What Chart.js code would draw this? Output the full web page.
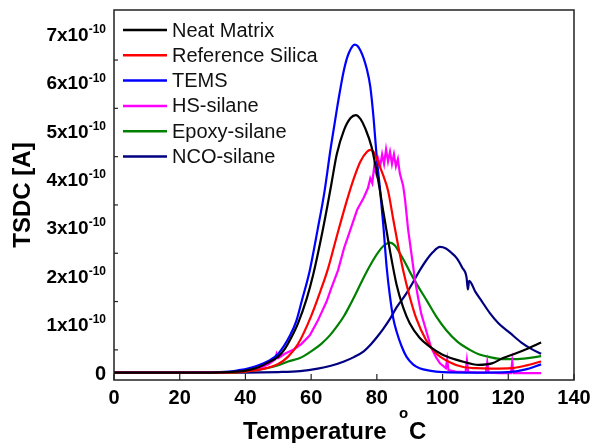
<!DOCTYPE html>
<html>
<head>
<meta charset="utf-8">
<script src="https://cdn.jsdelivr.net/npm/chart.js@4.4.0/dist/chart.umd.min.js"></script>
<style>
body { margin: 0; background: #fff; }
#wrap { width: 592px; height: 443px; }
</style>
</head>
<body>
<div id="wrap"><canvas id="tsdcChart" width="592" height="443"></canvas></div>
<script>
// TSDC current, values in units of 1e-10 A, temperature in deg C
const neatT = [0, 10, 20, 30, 35, 40, 44, 47, 50, 52, 54, 56, 58.6, 60.6, 63, 65, 66.2, 67.8, 70, 72, 73.6, 75, 76.5, 78.4, 80.3, 82, 84, 86, 88, 90, 93, 96, 100, 106, 111, 115, 118.4, 122, 126, 130];
const neatI = [0.03, 0.03, 0.03, 0.03, 0.04, 0.07, 0.14, 0.24, 0.36, 0.52, 0.76, 1.05, 1.55, 2.05, 2.8, 3.5, 3.95, 4.55, 5.05, 5.3, 5.36, 5.28, 5.08, 4.7, 4.05, 3.35, 2.55, 1.85, 1.38, 1.05, 0.75, 0.57, 0.4, 0.26, 0.19, 0.22, 0.33, 0.42, 0.53, 0.65];

const refT = [0, 20, 35, 40, 45, 50, 53, 56, 60, 63, 65, 68, 71, 73, 75, 77, 78, 79, 80, 82, 83.4, 85, 86.5, 88, 90, 92, 95, 98, 102, 106, 110, 115, 121, 125, 130];
const refI = [0.03, 0.03, 0.03, 0.05, 0.1, 0.21, 0.36, 0.62, 1.2, 1.75, 2.15, 2.9, 3.62, 4.05, 4.4, 4.6, 4.64, 4.6, 4.45, 4.1, 3.8, 3.2, 2.65, 2.15, 1.6, 1.15, 0.7, 0.43, 0.25, 0.15, 0.12, 0.11, 0.12, 0.17, 0.26];

const temsT = [0, 20, 35, 38, 41, 44, 47, 50, 53.6, 55.5, 57.1, 59.6, 62, 64, 66, 68, 70, 71.5, 73.3, 75, 77, 78, 79, 80, 81, 82, 83, 84, 85, 86, 87.5, 89, 91, 93, 96, 100, 110, 120, 125, 130];
const temsI = [0.03, 0.03, 0.05, 0.08, 0.12, 0.18, 0.27, 0.42, 0.8, 1.1, 1.5, 2.15, 3.0, 3.75, 4.7, 5.55, 6.3, 6.65, 6.82, 6.7, 6.3, 5.95, 5.3, 4.45, 3.8, 3.05, 2.2, 1.6, 1.15, 0.88, 0.58, 0.36, 0.2, 0.12, 0.07, 0.04, 0.03, 0.04, 0.09, 0.2];

const hsT = [0, 20, 35, 40, 44.4, 47, 49, 49.5, 50, 52, 55, 57, 59.6, 62, 64.7, 66, 68.2, 70, 72, 74, 76, 77.3, 78, 78.6, 79.2, 79.8, 80.4, 81, 81.6, 82.2, 82.8, 83.4, 84, 84.6, 85.2, 85.8, 86.4, 87, 88, 88.6, 89.5, 90.5, 91.6, 92.5, 93.5, 95, 96.5, 98, 99.2, 101, 101.4, 101.8, 104, 107, 107.4, 107.8, 110, 113.2, 113.6, 114, 117, 120.8, 121.2, 121.6, 125, 130];
const hsI = [0.03, 0.03, 0.04, 0.07, 0.12, 0.2, 0.3, 0.42, 0.33, 0.42, 0.52, 0.62, 0.8, 1.1, 1.5, 1.75, 2.15, 2.6, 3.0, 3.4, 3.65, 3.85, 4.05, 3.95, 4.3, 4.15, 4.45, 4.3, 4.55, 4.35, 4.65, 4.4, 4.6, 4.35, 4.55, 4.3, 4.45, 4.15, 3.9, 3.6, 3.0, 2.5, 1.95, 1.6, 1.25, 0.9, 0.55, 0.35, 0.22, 0.12, 0.3, 0.08, 0.05, 0.04, 0.28, 0.04, 0.03, 0.03, 0.24, 0.03, 0.02, 0.02, 0.26, 0.02, 0.02, 0.02];

const epoxyT = [0, 20, 35, 40, 46.5, 50, 53, 56.6, 60, 63, 65.7, 68, 70, 72, 74, 76, 78.8, 80.5, 82, 84, 85.5, 87, 88.5, 90, 92.5, 95.2, 98, 101.2, 104.5, 108.3, 111, 114.4, 118, 122, 126, 130];
const epoxyI = [0.03, 0.03, 0.03, 0.05, 0.12, 0.18, 0.26, 0.33, 0.47, 0.62, 0.8, 1.0, 1.2, 1.45, 1.72, 2.0, 2.35, 2.53, 2.65, 2.72, 2.66, 2.5, 2.32, 2.12, 1.82, 1.52, 1.2, 0.9, 0.67, 0.5, 0.41, 0.35, 0.31, 0.31, 0.33, 0.37];

const ncoT = [0, 20, 40, 50, 56.6, 62, 66, 70, 73, 76, 78, 80, 82, 84, 86, 89, 91, 93.1, 95, 97, 99.2, 101, 102.5, 104.3, 106, 107.3, 107.7, 108.1, 110, 112, 114.4, 117, 120.5, 124, 127, 130];
const ncoI = [0.03, 0.03, 0.03, 0.04, 0.06, 0.11, 0.17, 0.26, 0.35, 0.47, 0.6, 0.76, 0.94, 1.14, 1.38, 1.67, 1.9, 2.15, 2.35, 2.52, 2.63, 2.6, 2.52, 2.4, 2.2, 2.0, 1.75, 1.93, 1.7, 1.5, 1.26, 1.05, 0.85, 0.65, 0.52, 0.42];

const seriesNames = ['Neat Matrix', 'Reference Silica', 'TEMS', 'HS-silane', 'Epoxy-silane', 'NCO-silane'];
const seriesColors = ['#000000', '#ff0000', '#0000ff', '#ff00ff', '#008000', '#000080'];
const seriesT = [neatT, refT, temsT, hsT, epoxyT, ncoT];
const seriesI = [neatI, refI, temsI, hsI, epoxyI, ncoI];

const xTicks = [0, 20, 40, 60, 80, 100, 120, 140];
const yTicks = [0, 1, 2, 3, 4, 5, 6, 7];
const yMinorTicks = [0.5, 1.5, 2.5, 3.5, 4.5, 5.5, 6.5];

const FONT = '"Liberation Sans", Arial, sans-serif';

// frame, ticks, labels and legend drawn on top of the lines
const decorPlugin = {
    id: 'decor',
    afterDraw(chart) {
        const { ctx, chartArea: a, scales: { x, y } } = chart;
        ctx.save();
        ctx.strokeStyle = '#222';
        ctx.lineWidth = 1.5;
        ctx.strokeRect(a.left, a.top, a.right - a.left, a.bottom - a.top);

        ctx.lineWidth = 1.2;
        ctx.fillStyle = '#000';
        ctx.font = 'bold 20px ' + FONT;
        ctx.textAlign = 'center';
        ctx.textBaseline = 'middle';
        xTicks.forEach(v => {
            const px = x.getPixelForValue(v);
            ctx.beginPath();
            ctx.moveTo(px, a.bottom);
            ctx.lineTo(px, a.bottom - 6);
            ctx.stroke();
            ctx.fillText(String(v), px, a.bottom + 18);
        });

        yMinorTicks.forEach(v => {
            const py = y.getPixelForValue(v);
            ctx.beginPath();
            ctx.moveTo(a.left, py);
            ctx.lineTo(a.left + 4, py);
            ctx.stroke();
        });

        yTicks.forEach(v => {
            const py = y.getPixelForValue(v);
            const right = 106;
            if (v === 0) {
                ctx.font = 'bold 20px ' + FONT;
                ctx.textAlign = 'right';
                ctx.fillText('0', right, py);
                return;
            }
            const main = v + 'x10';
            const sup = '-10';
            ctx.font = 'bold 12px ' + FONT;
            const supW = ctx.measureText(sup).width;
            ctx.textAlign = 'left';
            ctx.fillText(sup, right - supW, py - 6);
            ctx.font = 'bold 19px ' + FONT;
            ctx.textAlign = 'right';
            ctx.fillText(main, right - supW, py);
        });

        // axis titles
        ctx.font = 'bold 24px ' + FONT;
        ctx.textAlign = 'left';
        ctx.textBaseline = 'alphabetic';
        ctx.fillText('Temperature', 243, 439);
        ctx.font = 'bold 15px ' + FONT;
        ctx.fillText('o', 399, 418);
        ctx.font = 'bold 24px ' + FONT;
        ctx.fillText('C', 409, 439);

        ctx.save();
        ctx.translate(23, 195);
        ctx.rotate(-Math.PI / 2);
        ctx.textAlign = 'center';
        ctx.textBaseline = 'middle';
        ctx.fillText('TSDC [A]', 0, 0);
        ctx.restore();

        // legend
        ctx.font = '20px ' + FONT;
        ctx.textAlign = 'left';
        ctx.textBaseline = 'middle';
        seriesNames.forEach((name, i) => {
            const ly = 30 + i * 25.3;
            ctx.strokeStyle = seriesColors[i];
            ctx.lineWidth = 2.5;
            ctx.beginPath();
            ctx.moveTo(123, ly);
            ctx.lineTo(167, ly);
            ctx.stroke();
            ctx.fillStyle = '#111';
            ctx.fillText(name, 172, ly + 1);
        });
        ctx.restore();
    }
};

const ctx = document.getElementById('tsdcChart').getContext('2d');
const tsdcChart = new Chart(ctx, {
    type: 'line',
    data: {
        datasets: seriesNames.map((name, i) => ({
            label: name,
            data: seriesT[i].map((t, j) => ({ x: t, y: seriesI[i][j] })),
            borderColor: seriesColors[i],
            borderWidth: 2.2,
            cubicInterpolationMode: i === 3 ? 'default' : 'monotone',
            tension: i === 3 ? 0 : 0.4,
            pointRadius: 0,
            fill: false
        }))
    },
    options: {
        responsive: false,
        animation: false,
        layout: {
            padding: { left: 114, right: 18, top: 10, bottom: 63 }
        },
        plugins: {
            legend: { display: false },
            tooltip: { enabled: false }
        },
        scales: {
            x: { type: 'linear', min: 0, max: 140, display: false },
            y: { type: 'linear', min: -0.124, max: 7.536, display: false }
        }
    },
    plugins: [decorPlugin]
});
</script>
</body>
</html>
